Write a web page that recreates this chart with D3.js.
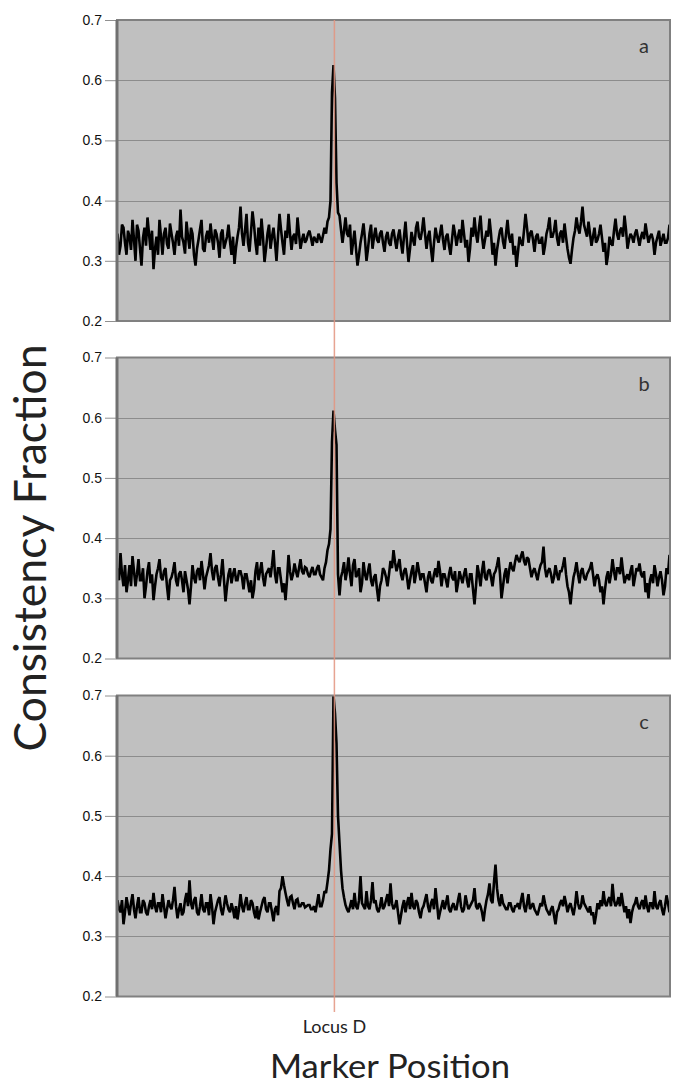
<!DOCTYPE html>
<html>
<head>
<meta charset="utf-8">
<script src="https://cdn.jsdelivr.net/npm/d3@7"></script>
<style>
  body { margin: 0; background: #fff; }
  svg { display: block; }
</style>
</head>
<body>
<div id="chart"></div>
<script>
// consistency fraction per marker
var panelNames = ['a', 'b', 'c'];
var yTicks = [0.2, 0.3, 0.4, 0.5, 0.6, 0.7];
var locusName = 'Locus D';
var locusIndex = 144.6;

var seriesA = [
  0.345, 0.31, 0.325, 0.36, 0.355, 0.33, 0.31, 0.35, 0.34, 0.318,
  0.368, 0.335, 0.30, 0.36, 0.35, 0.32, 0.292, 0.338, 0.355, 0.325,
  0.372, 0.345, 0.318, 0.35, 0.286, 0.32, 0.34, 0.31, 0.368, 0.34,
  0.31, 0.345, 0.355, 0.328, 0.32, 0.362, 0.345, 0.33, 0.31, 0.34,
  0.35, 0.325, 0.385, 0.34, 0.33, 0.312, 0.365, 0.34, 0.32, 0.355,
  0.345, 0.31, 0.292, 0.32, 0.335, 0.352, 0.368, 0.32, 0.315, 0.34,
  0.35, 0.33, 0.362, 0.338, 0.318, 0.352, 0.345, 0.33, 0.305, 0.345,
  0.352, 0.32, 0.33, 0.34, 0.36, 0.332, 0.31, 0.34, 0.295, 0.322,
  0.34, 0.355, 0.39, 0.345, 0.325, 0.35, 0.378, 0.33, 0.315, 0.348,
  0.382, 0.36, 0.33, 0.31, 0.355, 0.325, 0.37, 0.34, 0.298, 0.32,
  0.345, 0.36, 0.32, 0.34, 0.355, 0.33, 0.30, 0.34, 0.378, 0.352,
  0.33, 0.31, 0.35, 0.338, 0.378, 0.345, 0.318, 0.34, 0.345, 0.328,
  0.372, 0.345, 0.32, 0.335, 0.345, 0.33, 0.335, 0.345, 0.35, 0.338,
  0.325, 0.34, 0.335, 0.33, 0.345, 0.338, 0.33, 0.342, 0.355, 0.345,
  0.365, 0.372, 0.40, 0.58, 0.625, 0.57, 0.43, 0.38, 0.375, 0.352,
  0.33, 0.35, 0.372, 0.345, 0.34, 0.36, 0.31, 0.33, 0.35, 0.32,
  0.292, 0.31, 0.33, 0.345, 0.362, 0.335, 0.30, 0.32, 0.345, 0.36,
  0.32, 0.34, 0.355, 0.335, 0.33, 0.345, 0.35, 0.33, 0.315, 0.34,
  0.348, 0.33, 0.325, 0.345, 0.352, 0.335, 0.32, 0.34, 0.352, 0.33,
  0.312, 0.34, 0.365, 0.33, 0.298, 0.32, 0.348, 0.335, 0.325, 0.355,
  0.365, 0.34, 0.335, 0.35, 0.372, 0.345, 0.32, 0.34, 0.35, 0.32,
  0.298, 0.33, 0.355, 0.34, 0.33, 0.345, 0.36, 0.335, 0.318, 0.34,
  0.345, 0.325, 0.31, 0.335, 0.36, 0.345, 0.325, 0.34, 0.352, 0.33,
  0.368, 0.345, 0.322, 0.335, 0.298, 0.32, 0.355, 0.34, 0.372, 0.345,
  0.33, 0.355, 0.375, 0.34, 0.32, 0.335, 0.35, 0.34, 0.37, 0.345,
  0.31, 0.33, 0.292, 0.318, 0.335, 0.35, 0.355, 0.332, 0.32, 0.345,
  0.368, 0.34, 0.33, 0.345, 0.31, 0.325, 0.29, 0.315, 0.34, 0.33,
  0.325, 0.35, 0.378, 0.355, 0.33, 0.345, 0.35, 0.335, 0.315, 0.34,
  0.345, 0.33, 0.33, 0.34, 0.31, 0.325, 0.345, 0.355, 0.372, 0.34,
  0.34, 0.35, 0.368, 0.338, 0.325, 0.345, 0.35, 0.33, 0.362, 0.34,
  0.32, 0.305, 0.295, 0.318, 0.338, 0.35, 0.372, 0.355, 0.345, 0.365,
  0.39, 0.36, 0.35, 0.34, 0.365, 0.345, 0.325, 0.34, 0.355, 0.33,
  0.335, 0.345, 0.36, 0.338, 0.315, 0.33, 0.293, 0.31, 0.34, 0.33,
  0.325, 0.35, 0.37, 0.345, 0.335, 0.35, 0.355, 0.34, 0.375, 0.352,
  0.32, 0.335, 0.345, 0.34, 0.33, 0.345, 0.352, 0.338, 0.325, 0.34,
  0.348, 0.336, 0.362, 0.345, 0.33, 0.34, 0.345, 0.335, 0.31, 0.33,
  0.34, 0.35, 0.325, 0.335, 0.345, 0.33, 0.33, 0.338, 0.36
];

var seriesB = [
  0.35, 0.33, 0.375, 0.34, 0.32, 0.355, 0.31, 0.33, 0.355, 0.32,
  0.37, 0.345, 0.32, 0.34, 0.365, 0.33, 0.33, 0.35, 0.30, 0.32,
  0.345, 0.36, 0.325, 0.34, 0.297, 0.32, 0.34, 0.35, 0.365, 0.335,
  0.33, 0.345, 0.35, 0.32, 0.297, 0.33, 0.335, 0.345, 0.36, 0.33,
  0.32, 0.34, 0.345, 0.33, 0.31, 0.345, 0.33, 0.315, 0.29, 0.32,
  0.355, 0.335, 0.325, 0.345, 0.35, 0.33, 0.362, 0.34, 0.315, 0.335,
  0.345, 0.355, 0.375, 0.345, 0.33, 0.35, 0.355, 0.335, 0.32, 0.34,
  0.365, 0.33, 0.295, 0.32, 0.34, 0.35, 0.325, 0.34, 0.35, 0.33,
  0.33, 0.345, 0.345, 0.335, 0.315, 0.34, 0.34, 0.325, 0.31, 0.33,
  0.30, 0.315, 0.345, 0.36, 0.33, 0.345, 0.36, 0.335, 0.32, 0.34,
  0.345, 0.35, 0.335, 0.355, 0.38, 0.34, 0.325, 0.35, 0.35, 0.33,
  0.31, 0.325, 0.297, 0.33, 0.372, 0.345, 0.33, 0.34, 0.358, 0.345,
  0.335, 0.35, 0.365, 0.345, 0.34, 0.352, 0.35, 0.34, 0.335, 0.345,
  0.352, 0.34, 0.34, 0.35, 0.355, 0.34, 0.335, 0.33, 0.35, 0.36,
  0.38, 0.39, 0.415, 0.56, 0.612, 0.58, 0.555, 0.34, 0.305, 0.335,
  0.345, 0.36, 0.33, 0.345, 0.368, 0.34, 0.32, 0.355, 0.365, 0.335,
  0.34, 0.35, 0.31, 0.325, 0.36, 0.34, 0.33, 0.345, 0.358, 0.33,
  0.32, 0.335, 0.34, 0.315, 0.295, 0.32, 0.33, 0.35, 0.345, 0.335,
  0.32, 0.34, 0.362, 0.35, 0.38, 0.36, 0.345, 0.355, 0.365, 0.34,
  0.33, 0.345, 0.35, 0.335, 0.315, 0.33, 0.345, 0.355, 0.325, 0.34,
  0.36, 0.345, 0.33, 0.34, 0.34, 0.325, 0.31, 0.335, 0.345, 0.33,
  0.325, 0.34, 0.35, 0.335, 0.362, 0.345, 0.32, 0.34, 0.34, 0.33,
  0.318, 0.34, 0.352, 0.335, 0.33, 0.345, 0.31, 0.325, 0.345, 0.335,
  0.325, 0.34, 0.35, 0.33, 0.318, 0.34, 0.34, 0.315, 0.29, 0.32,
  0.355, 0.34, 0.32, 0.345, 0.362, 0.335, 0.33, 0.345, 0.348, 0.335,
  0.32, 0.34, 0.345, 0.355, 0.368, 0.34, 0.30, 0.32, 0.34, 0.35,
  0.325, 0.345, 0.36, 0.35, 0.345, 0.36, 0.372, 0.365, 0.36, 0.37,
  0.378, 0.362, 0.355, 0.368, 0.365, 0.35, 0.335, 0.345, 0.35, 0.34,
  0.33, 0.345, 0.355, 0.36, 0.386, 0.35, 0.335, 0.345, 0.35, 0.34,
  0.325, 0.335, 0.355, 0.34, 0.33, 0.345, 0.345, 0.355, 0.368, 0.34,
  0.32, 0.31, 0.29, 0.315, 0.335, 0.345, 0.36, 0.34, 0.325, 0.345,
  0.35, 0.335, 0.33, 0.34, 0.345, 0.35, 0.36, 0.34, 0.32, 0.335,
  0.34, 0.33, 0.31, 0.32, 0.29, 0.315, 0.335, 0.345, 0.325, 0.34,
  0.365, 0.345, 0.33, 0.35, 0.35, 0.34, 0.368, 0.345, 0.325, 0.335,
  0.34, 0.33, 0.345, 0.355, 0.32, 0.335, 0.35, 0.345, 0.358, 0.34,
  0.335, 0.345, 0.31, 0.325, 0.30, 0.33, 0.34, 0.325, 0.355, 0.34,
  0.32, 0.335, 0.345, 0.33, 0.305, 0.32, 0.35, 0.34, 0.372
];

var seriesC = [
  0.36, 0.345, 0.34, 0.36, 0.32, 0.34, 0.365, 0.35, 0.335, 0.355,
  0.37, 0.345, 0.33, 0.35, 0.365, 0.34, 0.34, 0.36, 0.355, 0.34,
  0.335, 0.35, 0.36, 0.345, 0.372, 0.35, 0.34, 0.355, 0.355, 0.34,
  0.37, 0.35, 0.33, 0.345, 0.36, 0.35, 0.345, 0.36, 0.382, 0.35,
  0.33, 0.345, 0.355, 0.335, 0.34, 0.36, 0.372, 0.35, 0.393, 0.355,
  0.345, 0.36, 0.365, 0.34, 0.335, 0.35, 0.37, 0.345, 0.34, 0.355,
  0.355, 0.335, 0.37, 0.35, 0.32, 0.34, 0.35, 0.36, 0.365, 0.345,
  0.335, 0.35, 0.368, 0.355, 0.345, 0.34, 0.355, 0.345, 0.33, 0.35,
  0.328, 0.345, 0.37, 0.35, 0.34, 0.355, 0.365, 0.345, 0.345, 0.36,
  0.355, 0.34, 0.33, 0.35, 0.328, 0.34, 0.35, 0.36, 0.365, 0.345,
  0.34, 0.355, 0.355, 0.34, 0.325, 0.345, 0.35, 0.335, 0.375, 0.38,
  0.40, 0.385, 0.372, 0.36, 0.35, 0.365, 0.367, 0.355, 0.345, 0.36,
  0.362, 0.35, 0.35, 0.355, 0.355, 0.348, 0.35, 0.352, 0.352, 0.345,
  0.345, 0.35, 0.34, 0.355, 0.37, 0.35, 0.35, 0.36, 0.375, 0.372,
  0.39, 0.41, 0.445, 0.47, 0.70, 0.67, 0.62, 0.50, 0.455, 0.41,
  0.38, 0.365, 0.352, 0.345, 0.34, 0.35, 0.36, 0.345, 0.372, 0.35,
  0.345, 0.36, 0.40, 0.355, 0.35, 0.345, 0.375, 0.35, 0.345, 0.36,
  0.39, 0.355, 0.36, 0.345, 0.34, 0.35, 0.365, 0.345, 0.35, 0.36,
  0.37, 0.35, 0.388, 0.355, 0.345, 0.35, 0.36, 0.34, 0.32, 0.335,
  0.35, 0.36, 0.34, 0.355, 0.365, 0.345, 0.372, 0.35, 0.345, 0.36,
  0.355, 0.34, 0.33, 0.345, 0.35, 0.36, 0.37, 0.35, 0.34, 0.355,
  0.362, 0.345, 0.38, 0.355, 0.328, 0.34, 0.35, 0.36, 0.345, 0.355,
  0.368, 0.345, 0.34, 0.35, 0.355, 0.345, 0.345, 0.36, 0.372, 0.35,
  0.34, 0.345, 0.368, 0.355, 0.345, 0.35, 0.355, 0.36, 0.38, 0.35,
  0.345, 0.355, 0.35, 0.34, 0.325, 0.345, 0.36, 0.37, 0.388, 0.36,
  0.355, 0.39, 0.419, 0.38, 0.36, 0.35, 0.37, 0.355, 0.35, 0.345,
  0.345, 0.355, 0.355, 0.345, 0.34, 0.35, 0.35, 0.355, 0.345, 0.36,
  0.372, 0.35, 0.34, 0.355, 0.37, 0.345, 0.35, 0.355, 0.345, 0.34,
  0.335, 0.345, 0.355, 0.35, 0.368, 0.355, 0.345, 0.34, 0.335, 0.345,
  0.35, 0.335, 0.32, 0.34, 0.345, 0.355, 0.36, 0.35, 0.367, 0.355,
  0.34, 0.35, 0.355, 0.345, 0.335, 0.35, 0.375, 0.355, 0.345, 0.35,
  0.368, 0.355, 0.35, 0.345, 0.34, 0.35, 0.335, 0.34, 0.32, 0.335,
  0.355, 0.345, 0.36, 0.35, 0.375, 0.355, 0.35, 0.36, 0.365, 0.35,
  0.387, 0.36, 0.35, 0.355, 0.365, 0.35, 0.372, 0.355, 0.34, 0.35,
  0.33, 0.345, 0.322, 0.34, 0.35, 0.355, 0.365, 0.35, 0.345, 0.355,
  0.36, 0.345, 0.368, 0.35, 0.34, 0.355, 0.355, 0.345, 0.375, 0.35,
  0.345, 0.355, 0.36, 0.345, 0.335, 0.35, 0.368, 0.355, 0.34
];

var allSeries = [seriesA, seriesB, seriesC];

var width = 685, height = 1087;
var plotLeft = 117, plotRight = 670;
var panelTops = [20, 357.5, 695.5];
var panelH = 301;

var svg = d3.select('#chart').append('svg')
    .attr('width', width)
    .attr('height', height);

svg.append('rect')
    .attr('width', width)
    .attr('height', height)
    .attr('fill', '#fff');

function xScaleFor(series) {
    return d3.scaleLinear()
        .domain([0, series.length - 1])
        .range([plotLeft + 0.5, plotRight - 0.5]);
}

allSeries.forEach(function (series, k) {
    var top = panelTops[k];
    var x = xScaleFor(series);
    var y = d3.scaleLinear()
        .domain([0.2, 0.7])
        .range([top + panelH, top]);

    var g = svg.append('g').attr('class', 'panel');

    // plot area
    g.append('rect')
        .attr('x', plotLeft)
        .attr('y', top)
        .attr('width', plotRight - plotLeft)
        .attr('height', panelH)
        .attr('fill', '#c0c0c0');

    // gridlines
    g.selectAll('.grid')
        .data(yTicks.slice(1, -1))
        .enter().append('line')
        .attr('x1', plotLeft)
        .attr('x2', plotRight)
        .attr('y1', function (d) { return Math.round(y(d)) + 0.5; })
        .attr('y2', function (d) { return Math.round(y(d)) + 0.5; })
        .attr('stroke', '#8c8c8c')
        .attr('stroke-width', 1);

    // y axis
    var yAxis = d3.axisLeft(y)
        .tickValues(yTicks)
        .tickFormat(d3.format('.1f'))
        .tickSize(11)
        .tickPadding(3);

    var ax = g.append('g')
        .attr('transform', 'translate(' + (plotLeft - 1) + ',0)')
        .call(yAxis);
    ax.select('.domain').remove();
    ax.selectAll('.tick line').attr('stroke', '#909090');
    ax.selectAll('.tick text')
        .attr('fill', '#111')
        .style('font-family', '"Liberation Sans", Arial, sans-serif')
        .style('font-size', '14px');

    var clipId = 'clip' + k;
    svg.append('clipPath').attr('id', clipId)
        .append('rect')
        .attr('x', plotLeft)
        .attr('y', top)
        .attr('width', plotRight - plotLeft)
        .attr('height', panelH);

    var line = d3.line()
        .x(function (d, i) { return x(i); })
        .y(function (d) { return y(d); });

    g.append('path')
        .datum(series)
        .attr('clip-path', 'url(#' + clipId + ')')
        .attr('d', line)
        .attr('fill', 'none')
        .attr('stroke', '#000')
        .attr('stroke-width', 2.6)
        .attr('stroke-linejoin', 'miter')
        .attr('stroke-miterlimit', 2);

    // frame
    g.append('rect')
        .attr('x', plotLeft)
        .attr('y', top)
        .attr('width', plotRight - plotLeft)
        .attr('height', panelH)
        .attr('fill', 'none')
        .attr('stroke', '#808080')
        .attr('stroke-width', 2);
    g.append('line')
        .attr('x1', plotLeft).attr('x2', plotLeft)
        .attr('y1', top).attr('y2', top + panelH)
        .attr('stroke', '#707070')
        .attr('stroke-width', 3);

    g.append('text')
        .attr('x', 644)
        .attr('y', top + 33)
        .attr('text-anchor', 'middle')
        .attr('fill', '#333')
        .style('font-family', 'Lato, "Open Sans", sans-serif')
        .style('font-size', '20px')
        .text(panelNames[k]);
});

// locus marker line across all panels
var xLocus = xScaleFor(seriesA)(locusIndex);

svg.append('line')
    .attr('x1', xLocus)
    .attr('x2', xLocus)
    .attr('y1', panelTops[0])
    .attr('y2', 1012)
    .attr('stroke', '#e3947f')
    .attr('stroke-opacity', 0.85)
    .attr('stroke-width', 1.5);

svg.append('text')
    .attr('x', xLocus)
    .attr('y', 1033)
    .attr('text-anchor', 'middle')
    .attr('fill', '#222')
    .style('font-family', 'Lato, "Open Sans", sans-serif')
    .style('font-size', '18px')
    .text(locusName);

svg.append('text')
    .attr('x', 390)
    .attr('y', 1078)
    .attr('text-anchor', 'middle')
    .attr('fill', '#222')
    .attr('textLength', 240)
    .attr('lengthAdjust', 'spacingAndGlyphs')
    .style('font-family', 'Lato, "Open Sans", sans-serif')
    .style('font-size', '33px')
    .text('Marker Position');

svg.append('text')
    .attr('transform', 'translate(46,548) rotate(-90)')
    .attr('text-anchor', 'middle')
    .attr('fill', '#222')
    .attr('textLength', 407)
    .attr('lengthAdjust', 'spacingAndGlyphs')
    .style('font-family', 'Lato, "Open Sans", sans-serif')
    .style('font-size', '44px')
    .text('Consistency Fraction');
</script>
</body>
</html>
